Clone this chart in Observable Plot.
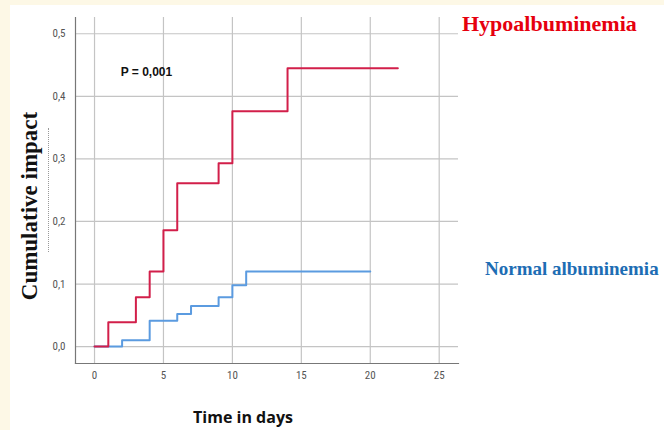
<!DOCTYPE html>
<html>
<head>
<meta charset="utf-8">
<script src="https://cdn.jsdelivr.net/npm/d3@7"></script>
<script src="https://cdn.jsdelivr.net/npm/@observablehq/plot@0.6"></script>
<style>
  html, body { margin: 0; padding: 0; }
  body { width: 664px; height: 430px; background: #fdf8e6; position: relative; overflow: hidden; }
  #panel { position: absolute; left: 10px; top: 5px; right: 0; bottom: 0; background: #ffffff; }
  #chart { position: absolute; left: 0; top: 0; }
  .lbl { position: absolute; white-space: nowrap; }
  #ylab { font-family: "Liberation Serif", "Times New Roman", serif; font-weight: bold; font-size: 23px; color: #111;
          left: 30px; top: 206px; transform: translate(-50%, -50%) rotate(-90deg); }
  #dots { position: absolute; left: 48px; top: 128px; height: 124px; border-left: 1px dotted #999; }
  #hypo { font-family: "Liberation Serif", "Times New Roman", serif; font-weight: bold; font-size: 22px; color: #e6000e; left: 462px; top: 11px; }
  #norm { font-family: "Liberation Serif", "Times New Roman", serif; font-weight: bold; font-size: 19px; color: #1d6db4; left: 485px; top: 258px; }
  #xlab { font-family: "Open Sans", "DejaVu Sans", sans-serif; font-weight: bold; font-size: 16px; color: #111; left: 243px; top: 406px; transform: translateX(-50%); }
</style>
</head>
<body>
<div id="panel"></div>
<div id="chart"></div>
<div id="dots"></div>
<div class="lbl" id="ylab">Cumulative impact</div>
<div class="lbl" id="hypo">Hypoalbuminemia</div>
<div class="lbl" id="norm">Normal albuminemia</div>
<div class="lbl" id="xlab">Time in days</div>
<script>
// Data
const hypoDays   = [0, 1, 3, 4, 5, 6, 9, 10, 14, 22];
const hypoValues = [0, 0.039, 0.079, 0.12, 0.186, 0.261, 0.293, 0.376, 0.445, 0.445];
const normDays   = [0, 2, 4, 6, 7, 9, 10, 11, 20];
const normValues = [0, 0.010, 0.0415, 0.052, 0.065, 0.079, 0.098, 0.12, 0.12];
const xTicks = [0, 5, 10, 15, 20, 25];
const yTicks = [0, 0.1, 0.2, 0.3, 0.4, 0.5];
const pLabel = "P = 0,001";

const hypo = hypoDays.map((d, i) => ({day: d, value: hypoValues[i]}));
const norm = normDays.map((d, i) => ({day: d, value: normValues[i]}));

const tickFont = "\"Liberation Sans Narrow\", \"Arial Narrow\", \"Roboto Condensed\", sans-serif";

const chart = Plot.plot({
  width: 664,
  height: 430,
  marginLeft: 75,
  marginRight: 206,
  marginTop: 17,
  marginBottom: 67,
  style: {background: "transparent", fontFamily: tickFont, fontSize: "11px", color: "#555"},
  x: {domain: [-1.38, 26.4], ticks: xTicks, label: null},
  y: {domain: [-0.027, 0.526], ticks: yTicks, label: null},
  marks: [
    Plot.gridX(xTicks, {stroke: "#c4c4c4", strokeOpacity: 1, strokeWidth: 1.2}),
    Plot.gridY(yTicks, {stroke: "#c4c4c4", strokeOpacity: 1, strokeWidth: 1.2}),
    Plot.axisX(xTicks, {tickSize: 0, tickPadding: 8, tickFormat: d => String(d), fill: "#555"}),
    Plot.axisY(yTicks, {tickSize: 0, tickPadding: 10, tickFormat: d => d.toFixed(1).replace(".", ","), fill: "#555"}),
    Plot.frame({anchor: "left", stroke: "#777", strokeWidth: 1.2}),
    Plot.frame({anchor: "bottom", stroke: "#777", strokeWidth: 1.2}),
    Plot.line(norm, {x: "day", y: "value", curve: "step-after", stroke: "#5b9be0", strokeWidth: 2}),
    Plot.line(hypo, {x: "day", y: "value", curve: "step-after", stroke: "#d21f4a", strokeWidth: 2}),
    Plot.text([pLabel], {x: 1.9, y: 0.438, text: d => d, textAnchor: "start", fontFamily: "\"Liberation Sans Narrow\", Arial, sans-serif", fontWeight: "bold", fontSize: 12, fill: "#111"})
  ]
});
document.getElementById("chart").appendChild(chart);
</script>
</body>
</html>
